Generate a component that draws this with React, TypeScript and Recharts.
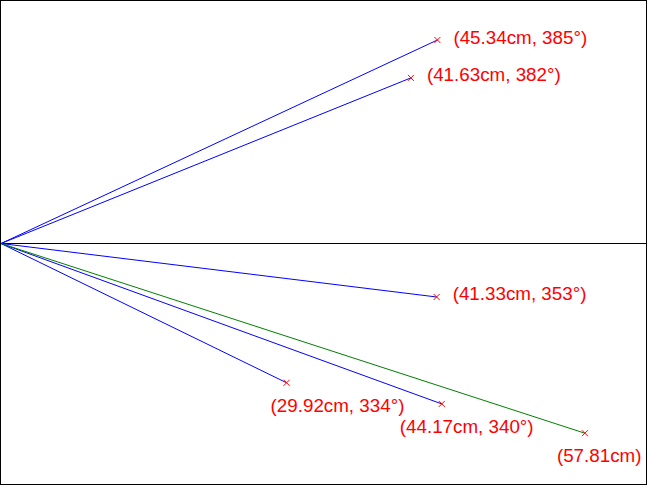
import { LineChart, Line, XAxis, YAxis, ReferenceLine } from "recharts";

// vector lengths (cm) and angles (deg) as labelled
const lengths = [45.34, 41.63, 41.33, 29.92, 44.17, 57.81];
const angles = [385, 382, 353, 334, 340, 342];
const labels = [
  "(45.34cm, 385°)",
  "(41.63cm, 382°)",
  "(41.33cm, 353°)",
  "(29.92cm, 334°)",
  "(44.17cm, 340°)",
  "(57.81cm)",
];
const colors = ["blue", "blue", "blue", "blue", "blue", "green"];
// label offset from the marker, px
const labelDx = [16, 16, 16, -16, -42, -28];
const labelDy = [-3, -3, -3, 23, 23, 22];

const PX_PER_CM = 10.62;
const W = 645;
const H = 483;
const ORIGIN_Y = 242.5;

const toRad = (d: number) => (d * Math.PI) / 180;

const vectors = lengths.map((r, i) => [
  { x: 0, y: 0 },
  { x: r * Math.cos(toRad(angles[i])), y: r * Math.sin(toRad(angles[i])) },
]);

function makeDot(i: number) {
  return (props: any) => {
    const { cx, cy, index } = props;
    if (index !== 1) return <g key={`d${i}-${index}`} />;
    return (
      <g key={`d${i}-${index}`}>
        <line x1={cx - 3} y1={cy - 3} x2={cx + 3} y2={cy + 3} stroke="red" strokeWidth={1} />
        <line x1={cx - 3} y1={cy + 3} x2={cx + 3} y2={cy - 3} stroke="red" strokeWidth={1} />
        <text
          x={cx + labelDx[i]}
          y={cy + labelDy[i]}
          dominantBaseline="central"
          fill="red"
          fontSize={18.8}
          fontFamily="'Liberation Sans', Arial, sans-serif"
        >
          {labels[i]}
        </text>
      </g>
    );
  };
}

export default function App() {
  return (
    <div
      style={{
        position: "absolute",
        left: 0,
        top: 0,
        width: W,
        height: H,
        border: "1px solid #000",
        background: "#fff",
      }}
    >
      <LineChart width={W} height={H} margin={{ top: 0, right: 0, bottom: 0, left: 0 }}>
        <XAxis type="number" dataKey="x" hide domain={[0, W / PX_PER_CM]} allowDataOverflow />
        <YAxis
          type="number"
          dataKey="y"
          hide
          domain={[-(H - ORIGIN_Y) / PX_PER_CM, ORIGIN_Y / PX_PER_CM]}
          allowDataOverflow
        />
        <ReferenceLine y={0} stroke="#000" strokeWidth={1} />
        {vectors.map((d, i) => (
          <Line
            key={i}
            data={d}
            dataKey="y"
            type="linear"
            stroke={colors[i]}
            strokeWidth={1}
            dot={makeDot(i)}
            activeDot={false}
            isAnimationActive={false}
          />
        ))}
      </LineChart>
    </div>
  );
}
